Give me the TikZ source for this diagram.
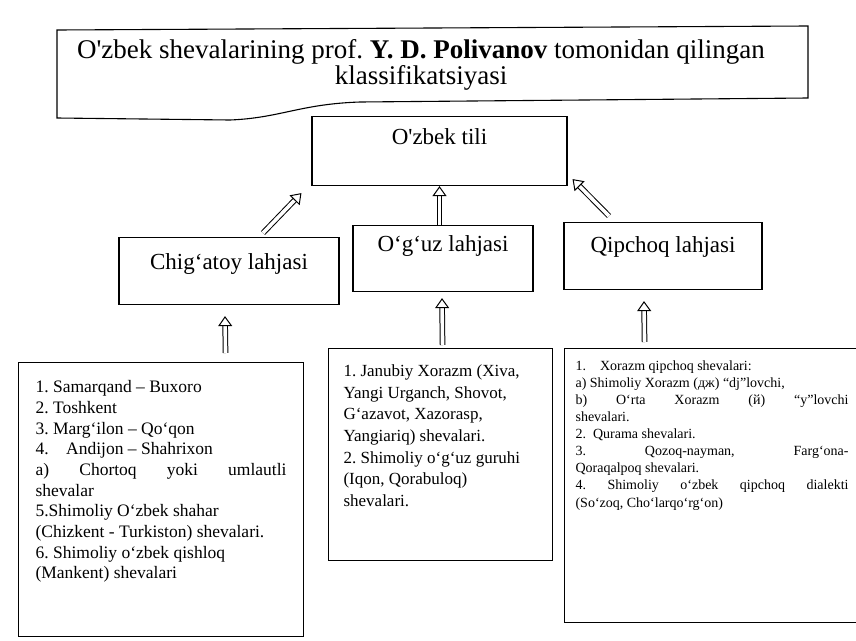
\documentclass[tikz,border=0pt]{standalone}
\usepackage{fontspec}
\setmainfont{Liberation Serif}
\usetikzlibrary{arrows.meta}

\begin{document}
\frenchspacing
\begin{tikzpicture}[x=1pt,y=-1pt,
  box/.style={draw,line width=1.1pt,rectangle,inner sep=0pt,anchor=north},
  lahja/.style={box,font=\fontsize{23}{27}\selectfont},
  list/.style={box,anchor=north west},
  hollow/.style={double,double distance=3.6pt,line width=1pt,-{Triangle[length=10pt,width=14pt,fill=white]}}]
  \useasboundingbox (0,0) rectangle (856,640);
  % title
  \draw[line width=1.1pt] (57,30) -- (808,26) -- (808,98) -- (360,102)
    .. controls (300,104) and (280,118) .. (230,120) -- (57,118) -- cycle;
  \node[font=\fontsize{27}{26}\selectfont,align=center] (title) at (421,65)
    {O\textquotesingle zbek shevalarining prof. \textbf{Y. D. Polivanov} tomonidan qilingan\\klassifikatsiyasi};
  \node[lahja,minimum width=255pt,text height=28pt,text depth=41pt] (tili) at (439.5,116) {O\textquotesingle zbek tili};
  \node[lahja,minimum width=220pt,text height=32pt,text depth=35pt] (chig) at (229,237) {Chig‘atoy lahjasi};
  \node[lahja,minimum width=180pt,text height=26pt,text depth=40pt] (oguz) at (443,225) {O‘g‘uz lahjasi};
  \node[lahja,minimum width=198pt,text height=30pt,text depth=37pt] (qip) at (663,222) {Qipchoq lahjasi};
  % shevalar
  \node[list,font=\fontsize{17.5}{20.7}\selectfont,inner xsep=17pt,inner ysep=18pt] (samlist) at (18,362)
    {\parbox[t][238pt][t]{251pt}{\raggedright
     1. Samarqand – Buxoro\\2. Toshkent\\3. Marg‘ilon – Qo‘qon\\4.\quad Andijon – Shahrixon\\
     a)\hfill Chortoq\hfill yoki\hfill umlautli\\shevalar\\5.Shimoliy O‘zbek shahar\\
     (Chizkent - Turkiston) shevalari.\\6. Shimoliy o‘zbek qishloq\\(Mankent) shevalari}};
  \node[list,font=\fontsize{17}{21.7}\selectfont,inner xsep=15pt,inner ysep=16pt] (oglist) at (328,348)
    {\parbox[t][180pt][t]{194pt}{\raggedright
     1. Janubiy Xorazm (Xiva,\\Yangi Urganch, Shovot,\\G‘azavot, Xazorasp,\\Yangiariq) shevalari.\\
     2. Shimoliy o‘g‘uz guruhi\\(Iqon, Qorabuloq)\\shevalari.}};
  \node[list,font=\fontsize{14}{17.1}\selectfont,inner xsep=11pt,inner ysep=12pt] (qiplist) at (564,348)
    {\parbox[t][250pt][t]{273pt}{\raggedright
     1.\quad Xorazm qipchoq shevalari:\\a) Shimoliy Xorazm (дж) “dj”lovchi,\\
     b)\hfill O‘rta\hfill Xorazm\hfill (й)\hfill “y”lovchi\\shevalari.\\2.\enspace Qurama shevalari.\\
     3.\hfill Qozoq-nayman,\hfill Farg‘ona-\\Qoraqalpoq shevalari.\\
     4.\hfill Shimoliy\hfill o‘zbek\hfill qipchoq\hfill dialekti\\(So‘zoq, Cho‘larqo‘rg‘on)}};
  % arrows
  \draw[hollow] ([shift={(34,-4)}]chig.north) -- ([shift={(-10,7)}]tili.south west);
  \draw[hollow] (tili.south |- oguz.north) -- (tili.south);
  \draw[hollow] ([shift={(-54,-6)}]qip.north) -- ([shift={(5,-7)}]tili.south east);
  \draw[hollow] ([shift={(64.5,-9)}]samlist.north) -- ([shift={(-4,11)}]chig.south);
  \draw[hollow] ([shift={(2,-3)}]oglist.north) -- ([shift={(-1,6)}]oguz.south);
  \draw[hollow] ([shift={(-67.5,-6)}]qiplist.north) -- ([shift={(-19,11)}]qip.south);
\end{tikzpicture}
\end{document}
